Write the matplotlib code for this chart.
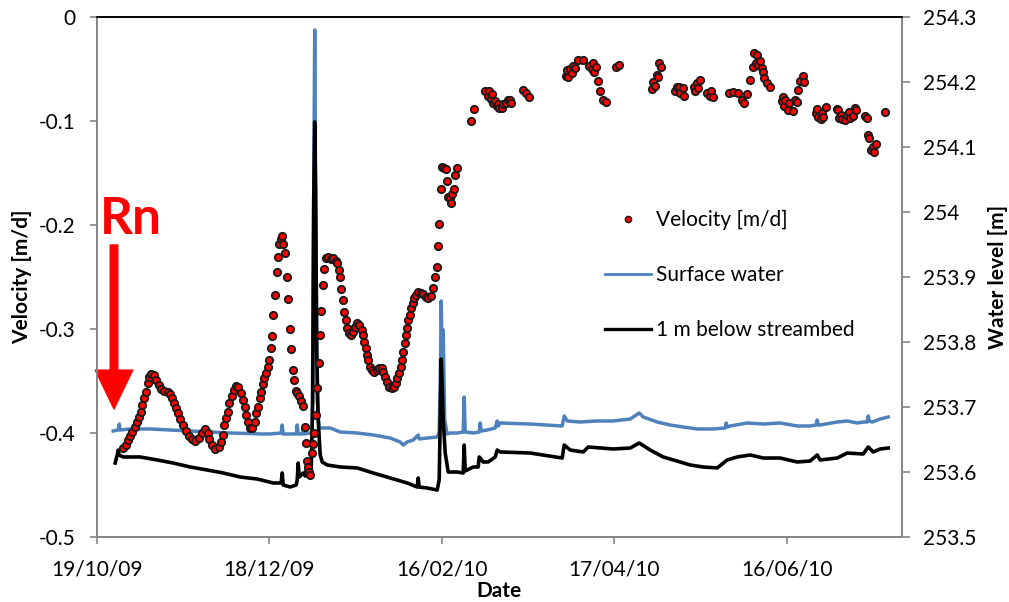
import numpy as np
import matplotlib
matplotlib.use("Agg")
import matplotlib.pyplot as plt
import matplotlib.dates as mdates
from matplotlib.lines import Line2D
from matplotlib.patches import FancyArrowPatch
from datetime import datetime

# ---------------- data ----------------
start_date = datetime(2009, 10, 19)
x_max_days = 280.0

tick_days = [0, 60, 120, 180, 240]
tick_labels = ['19/10/09', '18/12/09', '16/02/10', '17/04/10', '16/06/10']

vel_ticks = [-0.5, -0.4, -0.3, -0.2, -0.1, 0]
vel_tick_labels = ['-0.5', '-0.4', '-0.3', '-0.2', '-0.1', '0']
wl_ticks = [253.5, 253.6, 253.7, 253.8, 253.9, 254.0, 254.1, 254.2, 254.3]
wl_tick_labels = ['253.5', '253.6', '253.7', '253.8', '253.9', '254', '254.1', '254.2', '254.3']

# velocity [m/d] (days after 19/10/09)
vel_days = [
    9.32, 10.16, 10.85, 11.65, 12.45, 13.15, 13.98, 14.78, 15.48, 15.93, 16.52, 17.11, 17.67, 18.26, 18.85,
    19.76, 20.59, 21.50, 22.43, 23.48, 24.63, 25.57, 26.26, 26.96, 27.65, 28.35, 29.04,
    29.98, 31.03, 32.07, 33.11, 34.26, 35.41, 36.59, 37.74, 38.54, 39.23,
    40.07, 41.22, 42.37, 43.20, 43.76, 44.45, 45.04, 45.63, 46.19, 47.03,
    47.83, 48.52, 49.32, 50.16, 50.85, 51.41, 52.00, 52.59, 53.39, 54.19,
    54.89, 55.48, 56.07, 56.63, 57.11, 57.67, 58.26, 58.96, 59.55,
    60.00, 60.70, 61.04, 61.39, 62.09, 62.78, 63.13, 63.48, 64.00, 64.52,
    64.87, 65.57, 66.26, 66.61, 67.30, 67.65, 68.35,
    68.70, 69.22, 69.74, 70.43, 71.13, 71.72, 72.28, 72.77, 73.11, 73.46,
    73.91, 74.26, 74.85, 75.13, 75.65, 76.35, 76.80, 77.15, 77.50, 78.09,
    78.68, 79.23, 79.83, 80.52, 81.57, 82.26, 83.30, 83.65, 84.35, 84.70,
    85.04, 85.74, 86.09, 86.78, 87.13, 87.83, 88.52, 89.22, 89.91, 90.61,
    91.30, 92.35, 92.70, 93.04, 93.74, 94.09, 94.43, 95.13, 95.83, 96.52,
    97.57, 98.26, 99.30, 99.65, 100.35, 101.04, 101.74, 102.78, 103.48, 104.17,
    104.52, 105.22, 105.91, 106.26, 106.61, 107.30, 107.65, 108.00, 108.35, 109.04,
    109.39, 110.09, 110.43, 111.13, 111.83, 112.87, 113.57, 114.61, 115.30, 116.35,
    117.04, 117.74, 118.43, 118.78, 119.13, 119.83, 120.17, 120.87, 121.57, 121.91,
    122.26, 122.96, 123.30, 123.65, 124.35, 124.70, 125.39,
    130.26, 131.30, 135.13, 136.17, 136.52, 137.22, 137.57, 137.91, 138.61, 139.30, 139.65, 140.00,
    141.04, 141.39, 142.43, 143.13, 143.83, 144.17, 148.35, 149.39, 150.43,
    163.30, 163.65, 164.00, 164.70, 165.39, 165.74, 166.43, 167.48, 169.22, 171.30, 172.35, 172.70,
    173.04, 173.74, 174.43, 175.13, 176.17, 177.22, 180.70, 181.74,
    193.22, 193.57, 194.26, 194.96, 195.30, 195.65, 196.35,
    201.22, 201.91, 202.61, 202.96, 204.00, 204.35,
    207.83, 208.17, 208.87, 209.22, 209.91,
    212.35, 213.39, 213.74, 214.43,
    220.00, 221.39, 223.13, 224.52, 225.22, 226.26,
    227.30, 228.35, 228.70, 229.39, 229.74, 230.09, 230.78, 231.48, 231.65, 232.17, 233.22, 234.26,
    238.43, 238.78, 239.13, 239.48, 240.52, 240.87, 242.26, 242.96, 243.65, 244.00, 244.70, 245.74, 246.09,
    250.26, 250.61, 250.96, 252.00, 252.35, 252.70, 253.74,
    257.57, 257.91, 258.09, 258.96, 259.30, 260.35, 261.04, 261.74, 262.09, 263.13, 263.83, 264.17,
    267.30, 268.00, 268.35, 268.70, 269.39, 270.09, 270.26, 271.13,
    274.26,
]
vel_values = [
    -0.4147, -0.4115, -0.4067, -0.4029, -0.3988, -0.3939, -0.3891, -0.3843, -0.3795, -0.3731, -0.3666, -0.3603, -0.3522, -0.3459, -0.3433,
    -0.3442, -0.3490, -0.3538, -0.3580, -0.3593, -0.3603, -0.3628, -0.3666, -0.3709, -0.3757, -0.3811, -0.3868,
    -0.3923, -0.3978, -0.4029, -0.4061, -0.4074, -0.4051, -0.4003, -0.3964, -0.3997, -0.4061,
    -0.4115, -0.4154, -0.4132, -0.4084, -0.4019, -0.3923, -0.3859, -0.3795, -0.3714, -0.3644,
    -0.3587, -0.3548, -0.3555, -0.3618, -0.3683, -0.3753, -0.3827, -0.3891, -0.3955, -0.3955,
    -0.3891, -0.3811, -0.3747, -0.3666, -0.3603, -0.3529, -0.3474, -0.3426, -0.3363,
    -0.3298, -0.3183, -0.3067, -0.2865, -0.2673, -0.2452, -0.2308, -0.2183, -0.2135, -0.2106,
    -0.2183, -0.2269, -0.2500, -0.2712, -0.3000, -0.3192, -0.3394,
    -0.3490, -0.3596, -0.3615, -0.3644, -0.3692, -0.3740, -0.3942, -0.4096, -0.4269, -0.4327,
    -0.4375, -0.4404, -0.4192, -0.4106, -0.4000, -0.3827, -0.3567, -0.3327, -0.3058, -0.2827,
    -0.2577, -0.2423, -0.2317, -0.2308, -0.2327, -0.2317, -0.2346, -0.2365, -0.2433, -0.2500,
    -0.2615, -0.2721, -0.2837, -0.2913, -0.2990, -0.3038, -0.3058, -0.3029, -0.2981, -0.2942,
    -0.2962, -0.3010, -0.3058, -0.3125, -0.3183, -0.3250, -0.3298, -0.3365, -0.3394, -0.3413,
    -0.3394, -0.3375, -0.3375, -0.3413, -0.3462, -0.3510, -0.3558, -0.3567, -0.3558, -0.3519,
    -0.3471, -0.3423, -0.3365, -0.3298, -0.3221, -0.3135, -0.3058, -0.2990, -0.2913, -0.2865,
    -0.2798, -0.2750, -0.2702, -0.2673, -0.2644, -0.2654, -0.2663, -0.2692, -0.2702, -0.2683,
    -0.2606, -0.2500, -0.2404, -0.2202, -0.1990, -0.1654, -0.1442, -0.1452, -0.1462, -0.1577,
    -0.1731, -0.1740, -0.1788, -0.1702, -0.1654, -0.1519, -0.1452,
    -0.1000, -0.0885, -0.0712, -0.0760, -0.0712, -0.0788, -0.0740, -0.0827, -0.0808, -0.0856, -0.0837, -0.0875,
    -0.0875, -0.0837, -0.0827, -0.0798, -0.0798, -0.0827, -0.0702, -0.0731, -0.0769,
    -0.0567, -0.0510, -0.0577, -0.0500, -0.0538, -0.0471, -0.0490, -0.0413, -0.0413, -0.0471, -0.0500, -0.0442,
    -0.0529, -0.0481, -0.0615, -0.0712, -0.0798, -0.0817, -0.0481, -0.0462,
    -0.0692, -0.0625, -0.0663, -0.0558, -0.0577, -0.0442, -0.0481,
    -0.0712, -0.0673, -0.0673, -0.0731, -0.0683, -0.0760,
    -0.0673, -0.0712, -0.0635, -0.0683, -0.0606,
    -0.0731, -0.0760, -0.0712, -0.0769,
    -0.0731, -0.0721, -0.0731, -0.0798, -0.0827, -0.0740,
    -0.0606, -0.0481, -0.0346, -0.0442, -0.0365, -0.0462, -0.0423, -0.0490, -0.0529, -0.0587, -0.0635, -0.0673,
    -0.0808, -0.0769, -0.0856, -0.0798, -0.0894, -0.0827, -0.0904, -0.0798, -0.0817, -0.0702, -0.0615, -0.0567, -0.0625,
    -0.0923, -0.0885, -0.0962, -0.0981, -0.0923, -0.0962, -0.0865,
    -0.0885, -0.0894, -0.0971, -0.0942, -0.0981, -0.0990, -0.0942, -0.0913, -0.0971, -0.0952, -0.0875, -0.0894,
    -0.0952, -0.0971, -0.1135, -0.1163, -0.1279, -0.1250, -0.1298, -0.1221,
    -0.0913,
]

# surface water level [m]
sw_days = [
    5.74, 7.48, 7.83, 8.17, 11.65, 18.61, 25.57, 32.52, 39.48, 46.43, 53.39, 56.87, 60.35, 64.17, 64.52,
    64.87, 67.30, 69.39, 69.74, 70.09, 71.48, 71.83, 72.17, 74.26, 74.96, 75.48, 75.83, 76.17, 76.70,
    77.39, 78.78, 81.22, 84.70, 90.61, 96.17, 102.09, 105.57, 106.61, 108.00, 110.09, 111.83, 112.17,
    114.96, 118.43, 119.13, 119.65, 119.83, 120.17, 120.52, 121.04, 121.91, 122.96, 125.39, 127.48,
    127.83, 128.17, 130.96, 133.04, 133.39, 133.74, 135.83, 138.61, 139.30, 139.65, 140.35, 150.78,
    161.91, 162.61, 163.65, 168.17, 174.09, 179.65, 185.57, 188.70, 190.09, 194.96, 199.48, 204.00,
    208.87, 214.43, 218.61, 218.96, 219.30, 220.35, 226.26, 231.83, 237.74, 243.65, 248.17, 250.26,
    250.61, 250.96, 251.65, 257.57, 261.04, 264.52, 266.61, 268.00, 268.35, 268.70, 269.74, 272.52, 275.30,
]
sw_level = [
    253.6631, 253.6646, 253.6738, 253.6646, 253.6662, 253.6662, 253.6646, 253.6631, 253.6615, 253.6600,
    253.6592, 253.6585, 253.6585, 253.6600, 253.6723,
    253.6585, 253.6585, 253.6585, 253.6723, 253.6585, 253.6585, 253.6677, 253.6585, 253.6600, 253.6600,
    254.0185, 254.2800, 254.0185, 253.7108,
    253.6677, 253.6677, 253.6677, 253.6615, 253.6600, 253.6569, 253.6523, 253.6462, 253.6415, 253.6462,
    253.6492, 253.6569, 253.6508,
    253.6523, 253.6538, 253.6615, 253.7877, 253.8631, 253.7723, 253.8185, 253.6800, 253.6585, 253.6600,
    253.6600, 253.6615,
    253.7154, 253.6615, 253.6600, 253.6615, 253.6754, 253.6631, 253.6646, 253.6677, 253.6785, 253.6708,
    253.6754, 253.6738,
    253.6708, 253.6862, 253.6785, 253.6769, 253.6785, 253.6785, 253.6815, 253.6908, 253.6846, 253.6769,
    253.6723, 253.6692,
    253.6662, 253.6662, 253.6677, 253.6754, 253.6692, 253.6708, 253.6754, 253.6738, 253.6754, 253.6708,
    253.6708, 253.6723,
    253.6800, 253.6723, 253.6723, 253.6769, 253.6785, 253.6754, 253.6769, 253.6769, 253.6862, 253.6785,
    253.6769, 253.6815, 253.6846,
]

# 1 m below streambed level [m]
gw_days = [
    6.43, 7.13, 7.48, 7.83, 9.22, 15.13, 21.04, 26.61, 32.52, 38.43, 44.00, 49.91, 55.83, 61.39, 64.17,
    64.52, 64.87, 67.30, 69.39, 69.74, 70.09, 70.43, 71.83, 72.52, 73.22, 73.91, 74.61, 75.13, 75.48,
    75.83, 76.17, 76.52, 77.04, 77.74, 78.43, 80.17, 84.70, 90.61, 96.17, 102.09, 108.00, 111.48, 111.83,
    112.17, 114.96, 118.43, 119.13, 119.48, 119.83, 120.17, 120.52, 121.22, 122.26, 125.39, 127.48,
    127.83, 128.17, 128.87, 130.96, 132.70, 133.04, 133.39, 134.43, 136.17, 138.61, 139.30, 140.35,
    150.78, 161.91, 162.61, 164.70, 169.22, 170.96, 179.65, 185.57, 188.70, 192.52, 197.04, 202.96,
    206.43, 210.96, 215.83, 219.30, 222.78, 227.30, 231.83, 237.74, 243.65, 248.17, 250.61, 251.65,
    257.57, 261.04, 266.61, 268.35, 270.09, 272.52, 275.30,
]
gw_level = [
    253.6138, 253.6262, 253.6338, 253.6262, 253.6231, 253.6231, 253.6185, 253.6138, 253.6077, 253.6031,
    253.5985, 253.5923, 253.5892, 253.5831, 253.5831,
    253.5985, 253.5800, 253.5769, 253.5800, 253.5877, 253.6138, 253.5923, 253.5985, 253.5938, 253.6138,
    253.6000, 253.6031, 253.7108, 254.0185,
    254.1385, 254.0185, 253.7877, 253.6800, 253.6262, 253.6154, 253.6108, 253.6077, 253.6062, 253.5985,
    253.5908, 253.5831, 253.5769, 253.5908,
    253.5769, 253.5754, 253.5723, 253.5877, 253.6800, 253.7738, 253.7338, 253.6800, 253.6292, 253.6000,
    253.6000, 253.5985,
    253.6415, 253.6015, 253.6031, 253.6077, 253.6077, 253.6231, 253.6215, 253.6154, 253.6154, 253.6231,
    253.6338, 253.6308,
    253.6292, 253.6215, 253.6415, 253.6338, 253.6308, 253.6385, 253.6354, 253.6369, 253.6446, 253.6338,
    253.6231, 253.6154,
    253.6108, 253.6077, 253.6062, 253.6185, 253.6231, 253.6262, 253.6215, 253.6215, 253.6154, 253.6169,
    253.6262, 253.6185,
    253.6215, 253.6292, 253.6277, 253.6385, 253.6308, 253.6354, 253.6369,
]

# ---------------- plotting ----------------
FONT = ['Lato', 'DejaVu Sans']
plt.rcParams['font.family'] = FONT
GREY = '#868686'
BLUE = '#4F81BD'

t0 = mdates.date2num(start_date)
to_x = lambda d: t0 + np.asarray(d, dtype=float)

fig = plt.figure(figsize=(10.09, 6.02), dpi=100)
ax = fig.add_axes([96.7 / 1009, 1 - 537 / 602, (901.7 - 96.7) / 1009, 520 / 602])
ax2 = ax.twinx()

l_sw, = ax2.plot(to_x(sw_days), sw_level, color=BLUE, lw=2.5, solid_joinstyle='round')
l_gw, = ax2.plot(to_x(gw_days), gw_level, color='black', lw=2.6, solid_joinstyle='round')
ax2.set_ylim(253.5, 254.3)

ax.plot(to_x(vel_days), vel_values, linestyle='none', marker='o', ms=5.3,
        mfc='#FF0000', mec='#1a1a1a', mew=1.3)
ax.set_ylim(-0.5, 0)
ax.set_xlim(t0, t0 + x_max_days)

ax.set_zorder(ax2.get_zorder() + 1)
ax.patch.set_visible(False)

ax.set_xticks(to_x(tick_days))
ax.set_xticklabels(tick_labels)
ax.set_yticks(vel_ticks)
ax.set_yticklabels(vel_tick_labels)
ax2.set_yticks(wl_ticks)
ax2.set_yticklabels(wl_tick_labels)

for a in (ax, ax2):
    for s in a.spines.values():
        s.set_color(GREY)
        s.set_linewidth(1.3)
    a.spines['top'].set_color('black')
    a.spines['top'].set_linewidth(1.2)

ax.tick_params(axis='y', direction='out', length=5, width=1.2, color=GREY, pad=10.5, labelsize=15)
ax.tick_params(axis='x', direction='out', length=5, width=1.2, color=GREY, pad=11, labelsize=15)
ax2.tick_params(axis='y', direction='out', length=6, width=1.2, color=GREY, pad=9, labelsize=15)

fig.text(22 / 1009, 1 - 277 / 602, 'Velocity [m/d]', rotation=90, ha='center', va='center',
         fontsize=15, fontweight='bold')
fig.text(998 / 1009, 1 - 277 / 602, 'Water level [m]', rotation=90, ha='center', va='center',
         fontsize=15, fontweight='bold')
fig.text(499 / 1009, 1 - 591 / 602, 'Date', ha='center', va='center', fontsize=15, fontweight='bold')

# Rn annotation
fig.text(131 / 1009, 1 - 219 / 602, 'Rn', color='#FF0000', fontsize=37, fontweight='bold',
         ha='center', va='center')
arrow = FancyArrowPatch(((114 - 96.7) / 804, (537 - 245) / 520), ((114 - 96.7) / 804, (537 - 409) / 520),
                        transform=ax.transAxes, arrowstyle='simple,head_width=27,head_length=28,tail_width=5.5',
                        mutation_scale=1, color='#FF0000', shrinkA=0, shrinkB=0, clip_on=False)
ax.add_patch(arrow)

labels = ['Velocity [m/d]', 'Surface water', '1 m below streambed']
leg_handles = [Line2D([], [], linestyle='none', marker='o', ms=4.5, mfc='#FF0000', mec='#1a1a1a', mew=1.0),
               Line2D([], [], color=BLUE, lw=2.0),
               Line2D([], [], color='black', lw=2.4)]
ax.legend(leg_handles, labels, loc='upper left', bbox_to_anchor=(605 / 1009, 1 - 210 / 602),
          bbox_transform=fig.transFigure, frameon=False, fontsize=15, borderpad=0, borderaxespad=0,
          handlelength=2.2, handletextpad=0.25, labelspacing=1.68, numpoints=1)

fig.savefig('out.png', dpi=100)
